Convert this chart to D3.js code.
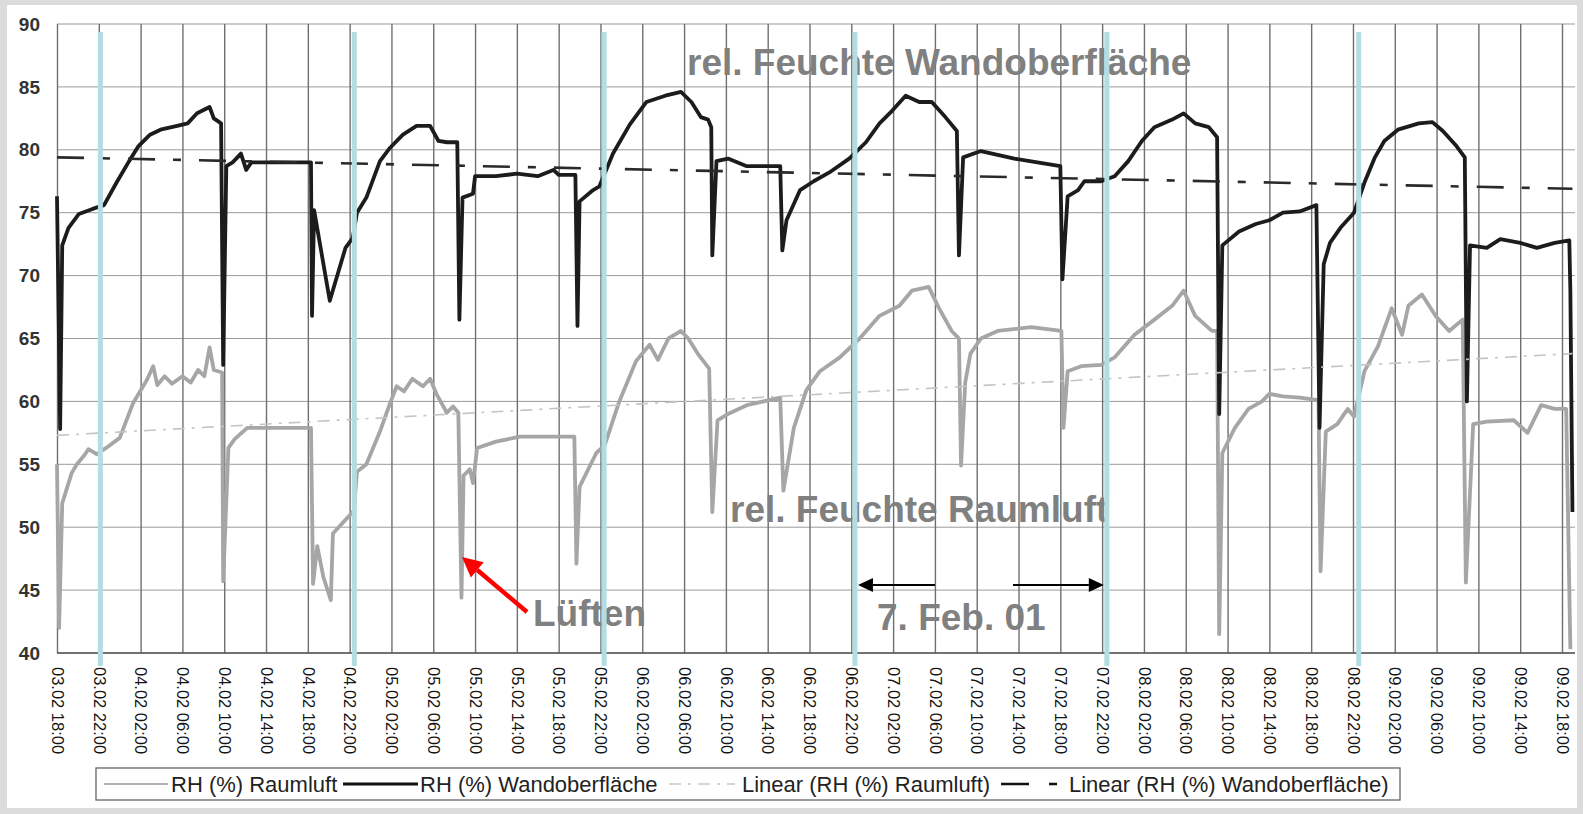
<!DOCTYPE html>
<html>
<head>
<meta charset="utf-8">
<script src="https://cdn.jsdelivr.net/npm/d3@7"></script>
<style>
  body { margin: 0; background: #dcdcdc; }
  svg { display: block; font-family: "Liberation Sans", Arial, sans-serif; }
</style>
</head>
<body>
<svg width="1583" height="814"></svg>
<script>
// time is in hours counted from 03.02 18:00, one tick every 4 hours
var tickLabels = ["03.02 18:00","03.02 22:00",
  "04.02 02:00","04.02 06:00","04.02 10:00","04.02 14:00","04.02 18:00","04.02 22:00",
  "05.02 02:00","05.02 06:00","05.02 10:00","05.02 14:00","05.02 18:00","05.02 22:00",
  "06.02 02:00","06.02 06:00","06.02 10:00","06.02 14:00","06.02 18:00","06.02 22:00",
  "07.02 02:00","07.02 06:00","07.02 10:00","07.02 14:00","07.02 18:00","07.02 22:00",
  "08.02 02:00","08.02 06:00","08.02 10:00","08.02 14:00","08.02 18:00","08.02 22:00",
  "09.02 02:00","09.02 06:00","09.02 10:00","09.02 14:00","09.02 18:00"];

var yTicks = [40, 45, 50, 55, 60, 65, 70, 75, 80, 85, 90];

// RH (%) Wandoberfläche  [hour, value]
var wandoberflaeche = [[0,76.3],[0.3,57.8],[0.5,72.4],[1.1,73.8],[2.1,74.9],[3.4,75.3],[4.5,75.6],
  [5.7,77.4],[6.9,79.1],[7.8,80.3],[8.9,81.2],[9.9,81.6],[11.5,81.9],[12.5,82.1],[13.4,82.9],
  [14.6,83.4],[15.0,82.5],[15.7,82.1],[15.9,62.9],[16.2,78.7],[16.8,79.0],[17.6,79.7],[18.1,78.4],
  [18.6,79.0],[24.3,79.0],[24.4,66.8],[24.6,75.2],[26.1,68.0],[27.6,72.2],[28.3,73.0],[28.7,75.0],
  [29.6,76.2],[30.9,79.1],[31.8,80.1],[33.1,81.2],[34.4,81.9],[35.7,81.9],[36.5,80.7],[37.3,80.6],
  [38.3,80.6],[38.5,66.5],[38.8,76.2],[39.8,76.5],[40.0,77.9],[42,77.9],[44,78.1],[46,77.9],
  [47.5,78.4],[48,78.0],[49.6,78.0],[49.8,66.0],[50.0,75.9],[51.3,76.8],[51.9,77.1],[53.2,79.7],
  [54.8,82.0],[56.4,83.8],[58.2,84.3],[59.7,84.6],[60.7,83.8],[61.6,82.6],[62.3,82.4],[62.6,81.8],
  [62.7,71.6],[63.1,79.1],[64.2,79.3],[66,78.7],[69.2,78.7],[69.4,72.0],[69.8,74.4],[71.1,76.8],
  [72.4,77.5],[73.9,78.2],[75.8,79.3],[77.4,80.6],[78.7,82.1],[79.9,83.1],[81.2,84.3],[82.5,83.8],
  [83.7,83.8],[85,82.6],[86.1,81.5],[86.3,71.6],[86.7,79.4],[88.4,79.9],[90,79.6],[91.6,79.3],
  [93.8,79.0],[96.0,78.7],[96.2,69.7],[96.7,76.3],[97.7,76.8],[98.3,77.5],[99.9,77.5],[101.2,77.9],
  [102.5,79.1],[103.8,80.7],[105,81.8],[106.7,82.4],[107.8,82.9],[108.9,82.1],[110.2,81.8],[111,81.0],
  [111.2,59.0],[111.5,72.4],[113.1,73.5],[114.7,74.1],[116,74.4],[117.3,75.0],[118.9,75.1],
  [120.5,75.6],[120.8,57.9],[121.2,70.9],[121.8,72.6],[122.8,73.8],[124.1,75.0],[125.1,77.4],
  [126.1,79.4],[127,80.7],[128.3,81.6],[130.3,82.1],[131.6,82.2],[132.6,81.5],[133.9,80.3],
  [134.7,79.4],[134.9,60.0],[135.2,72.4],[136.8,72.2],[138.1,72.9],[140,72.6],[141.6,72.2],
  [143.3,72.6],[144.7,72.8],[144.8,68.8],[145.0,51.2]];

// RH (%) Raumluft  [hour, value]
var raumluft = [[0,55.0],[0.2,42.0],[0.5,51.9],[1.4,54.3],[1.9,55.0],[2.6,55.7],[3.0,56.2],[3.8,55.8],
  [4.7,56.3],[6,57.1],[7.3,59.9],[8.6,61.7],[9.2,62.8],[9.6,61.3],[10.3,62.0],[11,61.4],[12,62.0],
  [12.8,61.5],[13.5,62.5],[14.1,62.0],[14.6,64.3],[15,62.5],[15.8,62.3],[15.9,45.7],[16.4,56.3],
  [17,57],[18.2,57.9],[24.3,57.9],[24.5,45.5],[24.9,48.5],[25.5,46],[26.2,44.2],[26.4,49.5],
  [27.5,50.5],[28.4,51.3],[28.7,54.4],[29.6,55.0],[30.9,57.6],[31.8,59.7],[32.5,61.2],[33.2,60.8],
  [34,61.8],[35,61.2],[35.7,61.8],[36.3,60.6],[37.3,59.1],[37.9,59.6],[38.4,59.1],[38.7,44.4],
  [38.9,54.1],[39.5,54.6],[39.8,53.5],[40.2,56.3],[42,56.8],[44.3,57.2],[49.5,57.2],[49.7,47.1],
  [50.0,53.2],[51.6,55.9],[52.4,56.5],[53.8,60.0],[55.4,63.2],[56.7,64.5],[57.5,63.3],[58.5,65.0],
  [59.7,65.6],[60.4,65.0],[61.3,63.8],[62.4,62.6],[62.7,51.2],[63.2,58.5],[64.2,59.0],[66,59.7],
  [69.2,60.3],[69.5,52.9],[70.5,57.9],[71.7,60.9],[73,62.4],[74.9,63.5],[76.8,65.0],[78.7,66.8],
  [80.6,67.6],[81.8,68.8],[83.4,69.1],[84.4,67.4],[85.6,65.6],[86.3,65.0],[86.5,54.9],[86.9,61.5],
  [87.4,63.8],[88.4,65.0],[90,65.6],[93.2,65.9],[96.1,65.6],[96.3,57.9],[96.7,62.4],[98,62.8],
  [99.9,62.9],[101.2,63.5],[103.1,65.3],[105,66.5],[106.7,67.6],[107.8,68.8],[108.9,66.8],
  [110.5,65.6],[111.0,65.6],[111.2,41.5],[111.5,55.9],[112.7,57.9],[114,59.4],[115.3,60.0],
  [116,60.6],[117.3,60.4],[118.9,60.3],[120.7,60.1],[120.9,46.5],[121.4,57.6],[122.5,58.2],
  [123.5,59.4],[124.1,58.8],[125.1,62.4],[126.4,64.4],[127.7,67.4],[128.7,65.3],[129.3,67.6],
  [130.6,68.5],[131.9,66.8],[133.2,65.6],[134.5,66.5],[134.8,45.6],[135.5,58.2],[136.8,58.4],
  [139.4,58.5],[140.7,57.5],[142,59.7],[143.3,59.4],[144.4,59.4],[144.8,40.3]];

// Linear trend lines, start and end
var trendWand = [[0, 79.4], [145.0, 76.9]];
var trendRaum = [[0, 57.3], [145.0, 63.8]];

// hand drawn day markers (22:00 of each day)
var markerHours = [4.15, 28.45, 52.35, 76.35, 100.45, 124.55];

var svg = d3.select("svg");

svg.append("rect")
    .attr("x", 7).attr("y", 5)
    .attr("width", 1570).attr("height", 803)
    .attr("fill", "#fff");

var plotLeft = 57, plotRight = 1575, plotTop = 24, plotBottom = 653;

var x = d3.scaleLinear().domain([0, 144]).range([57, 1562]);
var y = d3.scaleLinear().domain([40, 90]).range([plotBottom, plotTop]);

// horizontal grid
svg.append("g")
  .selectAll("line")
  .data(yTicks)
  .enter().append("line")
    .attr("x1", plotLeft).attr("x2", plotRight)
    .attr("y1", function(d) { return y(d); })
    .attr("y2", function(d) { return y(d); })
    .attr("stroke", "#9a9a9a")
    .attr("stroke-width", 1);

// y labels
svg.append("g")
  .selectAll("text")
  .data(yTicks)
  .enter().append("text")
    .attr("x", 40)
    .attr("y", function(d) { return y(d); })
    .attr("dy", "0.35em")
    .attr("text-anchor", "end")
    .attr("font-size", 19)
    .attr("font-weight", "bold")
    .attr("fill", "#333")
    .text(function(d) { return d; });

// x axis with vertical grid
var xAxis = d3.axisBottom(x)
    .tickValues(d3.range(0, 145, 4))
    .tickSize(-(plotBottom - plotTop))
    .tickFormat(function(d, i) { return tickLabels[i]; });

var gx = svg.append("g")
    .attr("transform", "translate(0," + plotBottom + ")")
    .call(xAxis);
gx.select(".domain").remove();
gx.selectAll("line")
    .attr("stroke", "#6f6f6f")
    .attr("stroke-width", 1.4);
gx.selectAll("text")
    .attr("transform", "rotate(90)")
    .attr("x", 14)
    .attr("y", 0)
    .attr("dy", "0.35em")
    .attr("text-anchor", "start")
    .attr("font-size", 16.5)
    .attr("font-family", "Liberation Sans, Arial, sans-serif")
    .attr("fill", "#151515");

svg.append("line")
    .attr("x1", plotLeft).attr("x2", plotRight)
    .attr("y1", plotBottom).attr("y2", plotBottom)
    .attr("stroke", "#555").attr("stroke-width", 1.4);

var line = d3.line()
    .x(function(d) { return x(d[0]); })
    .y(function(d) { return y(d[1]); });

svg.append("path")
    .datum(raumluft)
    .attr("fill", "none")
    .attr("stroke", "#a6a6a6")
    .attr("stroke-width", 3.8)
    .attr("stroke-linejoin", "round")
    .attr("d", line);

svg.append("path")
    .datum(wandoberflaeche)
    .attr("fill", "none")
    .attr("stroke", "#1c1c1c")
    .attr("stroke-width", 3.8)
    .attr("stroke-linejoin", "round")
    .attr("d", line);

svg.append("path")
    .datum(trendRaum)
    .attr("fill", "none")
    .attr("stroke", "#c4c4c4")
    .attr("stroke-width", 1.6)
    .attr("stroke-dasharray", "12,7,3,7")
    .attr("d", line);

svg.append("path")
    .datum(trendWand)
    .attr("fill", "none")
    .attr("stroke", "#2a2a2a")
    .attr("stroke-width", 2.6)
    .attr("stroke-dasharray", "27,18,8,18")
    .attr("d", line);

// annotations
function note(tx, ty, s) {
  svg.append("text")
      .attr("x", tx).attr("y", ty)
      .attr("font-size", 37)
      .attr("font-weight", "bold")
      .attr("fill", "#808080")
      .text(s);
}
note(687, 75, "rel. Feuchte Wandoberfläche");
note(730, 522, "rel. Feuchte Raumluft");
note(877, 630, "7. Feb. 01");
note(533, 626, "Lüften");

// blue day markers
svg.append("g")
  .selectAll("line")
  .data(markerHours)
  .enter().append("line")
    .attr("x1", function(d) { return x(d); })
    .attr("x2", function(d) { return x(d); })
    .attr("y1", 32).attr("y2", 666)
    .attr("stroke", "#b3dde1")
    .attr("stroke-width", 5);

// arrows
function arrow(x1, y1, x2, y2, color, w, hl, hw) {
  var a = Math.atan2(y2 - y1, x2 - x1);
  var bx = x2 - hl * Math.cos(a), by = y2 - hl * Math.sin(a);
  svg.append("line")
      .attr("x1", x1).attr("y1", y1).attr("x2", bx).attr("y2", by)
      .attr("stroke", color).attr("stroke-width", w);
  var px = -Math.sin(a) * hw, py = Math.cos(a) * hw;
  svg.append("path")
      .attr("d", "M" + x2 + "," + y2 + "L" + (bx + px) + "," + (by + py) + "L" + (bx - px) + "," + (by - py) + "Z")
      .attr("fill", color);
}
arrow(935, 585, x(markerHours[3]) + 3, 585, "#000", 2, 15, 7);
arrow(1013, 585, x(markerHours[4]) - 3, 585, "#000", 2, 15, 7);
arrow(527, 612, 462, 557, "#ff0000", 4.5, 20, 10);

// legend
var lg = svg.append("g");
lg.append("rect")
    .attr("x", 96).attr("y", 768)
    .attr("width", 1304).attr("height", 32)
    .attr("fill", "#fff")
    .attr("stroke", "#666").attr("stroke-width", 1.3);

var legendItems = [
  {label: "RH (%) Raumluft", x0: 104, x1: 168, tx: 171, color: "#b0b0b0", w: 2, dash: null},
  {label: "RH (%) Wandoberfläche", x0: 343, x1: 418, tx: 420, color: "#111", w: 3, dash: null},
  {label: "Linear (RH (%) Raumluft)", x0: 669, x1: 735, tx: 742, color: "#c8c8c8", w: 1.5, dash: "12,7,3,7"},
  {label: "Linear (RH (%) Wandoberfläche)", x0: 1001, x1: 1057, tx: 1069, color: "#111", w: 2.6, dash: "28,20,8,60"}
];
legendItems.forEach(function(d) {
  lg.append("line")
      .attr("x1", d.x0).attr("x2", d.x1)
      .attr("y1", 784).attr("y2", 784)
      .attr("stroke", d.color).attr("stroke-width", d.w)
      .attr("stroke-dasharray", d.dash);
  lg.append("text")
      .attr("x", d.tx).attr("y", 791.5)
      .attr("font-size", 22)
      .attr("fill", "#222")
      .text(d.label);
});
</script>
</body>
</html>
